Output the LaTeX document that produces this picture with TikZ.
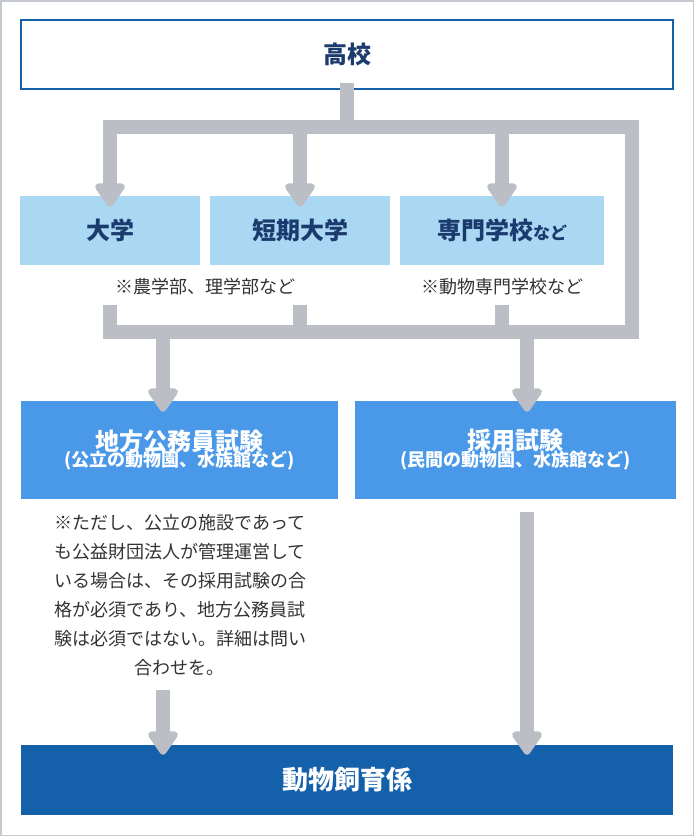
\documentclass[tikz,border=0pt]{standalone}
\usepackage{fontspec}
\setmainfont{Noto Sans CJK JP}
\usetikzlibrary{arrows.meta}
\definecolor{cgray}{HTML}{BCBEC6}
\definecolor{lblue}{HTML}{AAD8F3}
\definecolor{mblue}{HTML}{4A98E8}
\definecolor{dblue}{HTML}{1560AB}
\definecolor{navy}{HTML}{1B3B6F}
\definecolor{txt}{HTML}{333333}
\definecolor{frame}{HTML}{C4C8D0}
\tikzset{
 conn/.style={draw=cgray,line width=14pt,line cap=rect},
 arr/.style={draw=cgray,line width=14pt,-{Triangle[width=34pt,length=26pt,round]},fill=cgray},
 lbox/.style={fill=lblue,minimum height=69pt,inner sep=0pt,text=navy,font=\bfseries\fontsize{24}{28}\selectfont},
 mbox/.style={fill=mblue,minimum height=98pt,inner sep=0pt,text=white,align=center},
 note/.style={text=txt,font=\fontsize{18}{29}\selectfont,align=center,inner sep=0pt}
}
\begin{document}
\begin{tikzpicture}[x=1pt,y=-1pt]
\useasboundingbox (0,0) rectangle (694,836);
\draw[frame,line width=1.5pt] (0.75,0.75) rectangle (693.25,835.25);
\node[draw=dblue,line width=1.5pt,fill=white,minimum width=652pt,minimum height=69pt,inner sep=0pt,text=navy,font=\bfseries\fontsize{24}{28}\selectfont] (hs) at (347,54.5) {高校};
\node[lbox,minimum width=180pt] (u1) at (110,230.5) {大学};
\node[lbox,minimum width=180pt] (u2) at (300,230.5) {短期大学};
\node[lbox,minimum width=204pt] (u3) at (502,230.5) {専門学校\fontsize{17}{20}\selectfont など};
\node[note] (n1) at (205,287) {※農学部、理学部など};
\node[note] (n2) at (502,287) {※動物専門学校など};
\node[mbox,minimum width=317pt] (e1) at (179.5,450) {{\bfseries\fontsize{24}{30}\selectfont 地方公務員試験}\\[-2pt]{\bfseries\fontsize{18}{22}\selectfont (公立の動物園、水族館など)}};
\node[mbox,minimum width=321pt] (e2) at (515.5,450) {{\bfseries\fontsize{24}{30}\selectfont 採用試験}\\[-2pt]{\bfseries\fontsize{18}{22}\selectfont (民間の動物園、水族館など)}};
\node[note] (n3) at (180,595) {※ただし、公立の施設であって\\も公益財団法人が管理運営して\\いる場合は、その採用試験の合\\格が必須であり、地方公務員試\\験は必須ではない。詳細は問い\\合わせを。};
\node[fill=dblue,minimum width=652pt,minimum height=70pt,inner sep=0pt,text=white,font=\bfseries\fontsize{26}{30}\selectfont] (job) at (347,780) {動物飼育係};
\coordinate (t0) at (347,127);
\coordinate (tl) at (110,127);
\coordinate (tr) at (632,127);
\coordinate (bl) at (110,332);
\coordinate (br) at (632,332);
\coordinate (m1) at (163,332);
\coordinate (m2) at (527,332);
\draw[conn] (hs.south) -- (t0);
\draw[conn] (tl) -- (tr) -- (br) -- (bl);
\draw[arr] (tl) -- ([yshift=-11pt]u1.north);
\draw[arr] (u2.north|-t0) -- ([yshift=-11pt]u2.north);
\draw[arr] (u3.north|-t0) -- ([yshift=-11pt]u3.north);
\draw[conn] (110,312) -- (bl);
\draw[conn] (300,312) -- (300,332);
\draw[conn] (502,312) -- (502,332);
\draw[arr] (m1) -- ([yshift=-11pt]e1.north-|m1);
\draw[arr] (m2) -- ([yshift=-11pt]e2.north-|m2);
\draw[arr] (163,690) -- ([yshift=-10pt]job.north-|m1);
\draw[arr] (527,512) -- ([yshift=-10pt]job.north-|m2);
\end{tikzpicture}
\end{document}
